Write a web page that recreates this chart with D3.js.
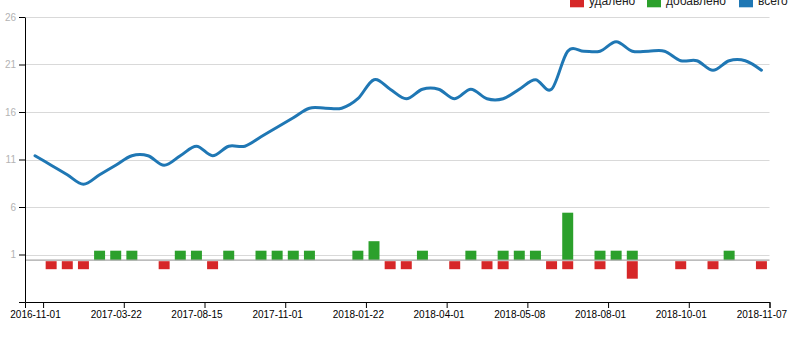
<!DOCTYPE html>
<html><head><meta charset="utf-8">
<script src="https://cdn.jsdelivr.net/npm/d3@7"></script>
<style>
body{margin:0;background:#fff}
svg text{font-family:"Liberation Sans",Arial,sans-serif}
</style>
</head><body>
<svg id="c" width="807" height="342"></svg>
<script>
// ---- data ----
const tickLabels = ["2016-11-01","2017-03-22","2017-08-15","2017-11-01","2018-01-22","2018-04-01","2018-05-08","2018-08-01","2018-10-01","2018-11-07"];
const tickIndex = [0,5,10,15,20,25,30,35,40,45];
const total   = [11,10,9,8,9,10,11,11,10,11,12,11,12,12,13,14,15,16,16,16,17,19,18,17,18,18,17,18,17,17,18,19,18,22,22,22,23,22,22,22,21,21,20,21,21,20];
const added   = [0,0,0,0,1,1,1,0,0,1,1,0,1,0,1,1,1,1,0,0,1,2,0,0,1,0,0,1,0,1,1,1,0,5,0,1,1,1,0,0,0,0,0,1,0,0];
const removed = [0,1,1,1,0,0,0,0,1,0,0,1,0,0,0,0,0,0,0,0,0,0,1,1,0,0,1,0,1,1,0,0,1,1,0,1,0,2,0,0,1,0,1,0,0,1];
const yTickValues = [-4.4,0.6,5.6,10.6,15.6,20.6,25.6];
const yTickLabels = ["","1","6","11","16","21","26"];
const legendLabels = ["удалено","добавлено","всего"];
const legendColors = ["#d62728","#2ca02c","#1f77b4"];

// ---- layout ----
const svg = d3.select("#c");
const x = d3.scaleLinear().domain([-0.62, 45.5]).range([25, 769.5]);
const y = d3.scaleLinear().domain([-4.4, 25.6]).range([302, 17]);
const step = x(1) - x(0);
const barW = step * 0.68;

// gridlines
svg.append("g").selectAll("line").data(yTickValues.slice(1)).join("line")
  .attr("x1", x.range()[0]).attr("x2", x.range()[1])
  .attr("y1", d => Math.round(y(d)) + 0.5).attr("y2", d => Math.round(y(d)) + 0.5)
  .attr("stroke", "#d9d9d9").attr("stroke-width", 1);

// bars
const idx = d3.range(total.length);
svg.append("g").selectAll("rect").data(idx.filter(i => added[i] > 0)).join("rect")
  .attr("x", i => x(i) - barW / 2).attr("width", barW)
  .attr("y", i => y(added[i])).attr("height", i => y(0) - y(added[i]))
  .attr("fill", legendColors[1]);
svg.append("g").selectAll("rect").data(idx.filter(i => removed[i] > 0)).join("rect")
  .attr("x", i => x(i) - barW / 2).attr("width", barW)
  .attr("y", y(0) + 1).attr("height", i => y(-removed[i]) - y(0) - 1.5)
  .attr("fill", legendColors[0]);

// zero line
svg.append("line")
  .attr("x1", x.range()[0]).attr("x2", x.range()[1])
  .attr("y1", y(0)).attr("y2", y(0))
  .attr("stroke", "#a6a6a6").attr("stroke-width", 1.2);

// total line
svg.append("path").datum(total)
  .attr("fill", "none").attr("stroke", legendColors[2]).attr("stroke-width", 3)
  .attr("stroke-linejoin", "round").attr("stroke-linecap", "round")
  .attr("d", d3.line().x((d, i) => x(i)).y(d => y(d)).curve(d3.curveCardinal));

// y axis
const gy = svg.append("g").attr("transform", "translate(25,0)")
  .call(d3.axisLeft(y).tickValues(yTickValues).tickFormat((d, i) => yTickLabels[i]).tickSizeOuter(0));
gy.selectAll("text").attr("fill", "#b3b3b3").style("font-size", "10px");
gy.select(".domain").attr("stroke", "#000");

// x axis
const gx = svg.append("g").attr("transform", "translate(0,302)")
  .call(d3.axisBottom(x).tickValues(tickIndex.map(p => p + 0.5)).tickFormat((d, i) => tickLabels[i]).tickSizeOuter(6));
gx.selectAll("text").attr("x", -step / 2).attr("fill", "#000").style("font-size", "10px");

// legend
const lx = [570, 647, 739];
const lg = svg.append("g").selectAll("g").data(legendLabels).join("g")
  .attr("transform", (d, i) => `translate(${lx[i]},0)`);
lg.append("rect").attr("x", 0).attr("y", -6.7).attr("width", 14).attr("height", 14)
  .attr("fill", (d, i) => legendColors[i]);
lg.append("text").attr("x", 19).attr("y", 0.5).attr("dy", "0.35em")
  .style("font-size", "12px").attr("fill", "#222").text(d => d);
</script>
</body></html>
